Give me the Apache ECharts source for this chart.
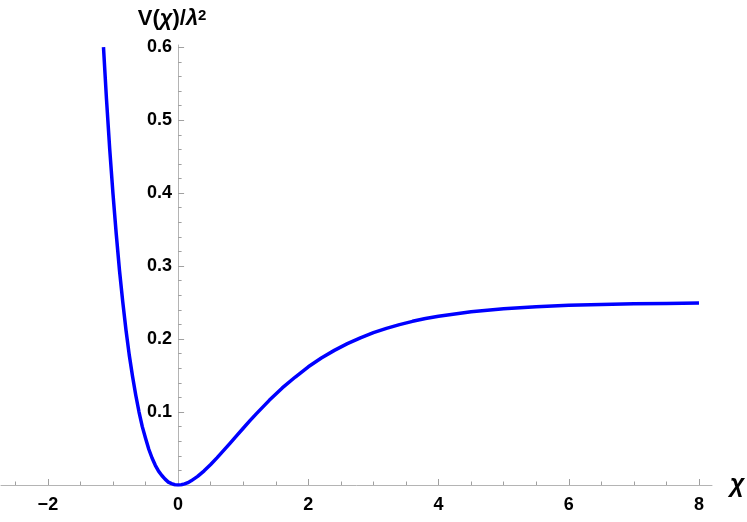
<!DOCTYPE html>
<html>
<head>
<meta charset="utf-8">
<script src="https://cdn.jsdelivr.net/npm/echarts@6/dist/echarts.min.js"></script>
<style>
html, body { margin: 0; padding: 0; background: #fff; }
#main { width: 747px; height: 522px; }
</style>
</head>
<body>
<div id="main"></div>
<script>
// curve
var chi = [-1.146, -1.1, -1.05, -1.0, -0.95, -0.9, -0.85, -0.8, -0.75, -0.7, -0.65, -0.6, -0.55, -0.5, -0.45, -0.4, -0.35, -0.3, -0.25, -0.2, -0.15, -0.1, -0.05, 0,
	0.05, 0.1, 0.15, 0.2, 0.3, 0.4, 0.5, 0.6, 0.7, 0.8, 0.9, 1.0, 1.1, 1.2, 1.4, 1.6, 1.8, 2.0, 2.2, 2.4, 2.6, 2.8, 3.0, 3.2, 3.4, 3.6, 3.8, 4.0,
	4.5, 5.0, 5.5, 6.0, 6.5, 7.0, 7.5, 8.0];
var pot = [0.600, 0.529, 0.460, 0.399, 0.344, 0.294, 0.251, 0.212, 0.178, 0.149, 0.123, 0.100, 0.080, 0.064, 0.049, 0.037, 0.027, 0.019, 0.013, 0.008, 0.004, 0.0018, 0.0004, 0,
	0.0004, 0.0015, 0.0032, 0.0057, 0.0118, 0.0194, 0.0281, 0.0375, 0.0474, 0.0575, 0.0677, 0.0778, 0.0878, 0.0975, 0.116, 0.133, 0.148, 0.162, 0.174, 0.1845, 0.1937, 0.2017, 0.2087, 0.2147, 0.2198, 0.2243, 0.2281, 0.2313,
	0.2375, 0.2416, 0.2444, 0.2463, 0.2475, 0.2484, 0.2489, 0.2493];

// ticks
var xLabels = [-2, 0, 2, 4, 6, 8];
var xMajor = [-2, 2, 4, 6, 8];
var xMinor = [-2.5, -1.5, -1, -0.5, 0.5, 1, 1.5, 2.5, 3, 3.5, 4.5, 5, 5.5, 6.5, 7, 7.5];
var yMajor = [0.1, 0.2, 0.3, 0.4, 0.5, 0.6];
var yMinor = [0.02, 0.04, 0.06, 0.08, 0.12, 0.14, 0.16, 0.18, 0.22, 0.24, 0.26, 0.28,
	0.32, 0.34, 0.36, 0.38, 0.42, 0.44, 0.46, 0.48, 0.52, 0.54, 0.56, 0.58];

var data = [];
for (var i = 0; i < chi.length; i++) {
	data.push([chi[i], pot[i]]);
}

var axisGray = '#b4b4b4';
var tickGray = '#a0a0a0';
var font = 'Liberation Sans, Arial, sans-serif';
var xMin = -2.72, xMax = 8.2, yMin = 0, yMax = 0.603;
var gridL = 1, gridR = 35;
// left edge of the label grid = where chi = 0 falls
var zeroLeft = gridL + (0 - xMin) / (xMax - xMin) * (747 - gridL - gridR);

var labelStyle = {
	fontFamily: font,
	fontWeight: 'bold',
	fontSize: 18,
	color: '#000'
};

var myChart = echarts.init(document.getElementById('main'));
var option = {
	animation: false,
	grid: [
		{ left: gridL, right: gridR, top: 45, bottom: 37, containLabel: false, outerBoundsMode: 'none' },
		{ left: zeroLeft, right: gridR, top: 45, bottom: 37, containLabel: false, outerBoundsMode: 'none' }
	],
	xAxis: [
		{
			type: 'value',
			gridIndex: 0,
			min: xMin,
			max: xMax,
			position: 'bottom',
			name: 'χ',
			nameLocation: 'end',
			nameGap: 18,
			nameTextStyle: {
				fontFamily: font,
				fontStyle: 'italic',
				fontWeight: 'bold',
				fontSize: 25,
				color: '#000',
				padding: [8, 0, 0, 0]
			},
			axisLine: { onZero: false, lineStyle: { color: axisGray, width: 1 } },
			axisTick: { inside: true, length: 6, customValues: xMajor, lineStyle: { color: tickGray } },
			axisLabel: Object.assign({
				customValues: xLabels,
				margin: 11,
				formatter: function (v) {
					return v < 0 ? '\u2212' + Math.abs(v) : String(v);
				}
			}, labelStyle),
			splitLine: { show: false }
		},
		{
			type: 'value',
			gridIndex: 0,
			min: xMin,
			max: xMax,
			position: 'bottom',
			axisLine: { show: false, onZero: false },
			axisTick: { inside: true, length: 3.5, customValues: xMinor, lineStyle: { color: tickGray } },
			axisLabel: { show: false },
			splitLine: { show: false }
		},
		{
			type: 'value',
			gridIndex: 1,
			min: 0,
			max: xMax,
			show: false
		}
	],
	yAxis: [
		{
			type: 'value',
			gridIndex: 0,
			min: yMin,
			max: yMax,
			position: 'left',
			name: '{a|V(}{i|χ}{a|)/}{i|λ}{s|2}',
			nameLocation: 'end',
			nameGap: 15,
			nameTextStyle: {
				padding: [0, 12, 0, 0],
				rich: {
					a: { fontFamily: font, fontWeight: 'bold', fontSize: 22, color: '#000' },
					i: { fontFamily: font, fontWeight: 'bold', fontStyle: 'italic', fontSize: 22, color: '#000' },
					s: { fontFamily: font, fontWeight: 'bold', fontSize: 15, color: '#000', verticalAlign: 'top', lineHeight: 15 }
				}
			},
			axisLine: { onZero: true, lineStyle: { color: axisGray, width: 1 } },
			axisTick: { inside: true, length: 6, customValues: yMajor, lineStyle: { color: tickGray } },
			axisLabel: { show: false },
			splitLine: { show: false }
		},
		{
			type: 'value',
			gridIndex: 0,
			min: yMin,
			max: yMax,
			position: 'left',
			axisLine: { show: false, onZero: true },
			axisTick: { inside: true, length: 3.5, customValues: yMinor, lineStyle: { color: tickGray } },
			axisLabel: { show: false },
			splitLine: { show: false }
		},
		{
			// tick labels beside the axis at chi = 0
			type: 'value',
			gridIndex: 1,
			min: yMin,
			max: yMax,
			position: 'left',
			axisLine: { show: false },
			axisTick: { show: false },
			axisLabel: Object.assign({
				customValues: yMajor,
				margin: 6,
				formatter: function (v) { return v.toFixed(1); }
			}, labelStyle),
			splitLine: { show: false }
		}
	],
	series: [{
		type: 'line',
		xAxisIndex: 0,
		yAxisIndex: 0,
		data: data,
		smooth: false,
		showSymbol: false,
		lineStyle: { color: '#0000ff', width: 3.5, join: 'round' }
	}]
};
myChart.setOption(option);
</script>
</body>
</html>
